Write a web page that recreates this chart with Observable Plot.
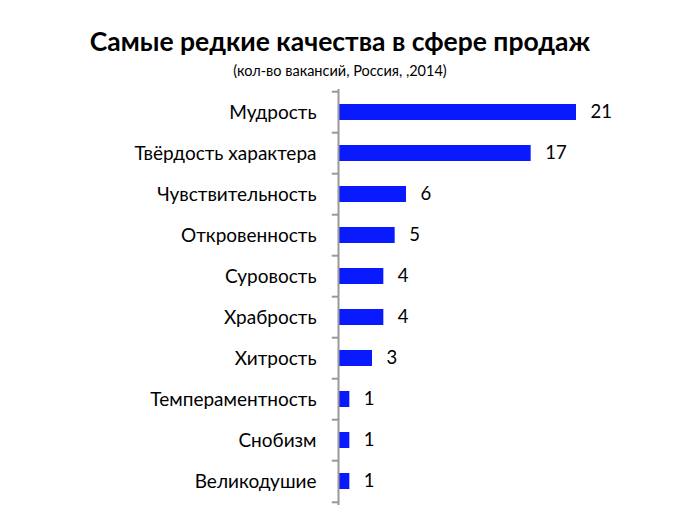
<!DOCTYPE html>
<html>
<head>
<meta charset="utf-8">
<script src="https://cdn.jsdelivr.net/npm/d3@7"></script>
<script src="https://cdn.jsdelivr.net/npm/@observablehq/plot@0.6"></script>
<style>
  body { margin: 0; background: #fff; font-family: Lato, "Open Sans", sans-serif; }
  #wrap { width: 700px; height: 519px; position: relative; }
  #title { position: absolute; left: 0; width: 680px; top: 28px; text-align: center; font-weight: bold; font-size: 26.5px; line-height: 27px; color: #000; }
  #subtitle { position: absolute; left: 0; width: 680px; top: 63px; text-align: center; font-size: 14.5px; line-height: 16px; color: #000; }
  #chart { position: absolute; left: 0; top: 80px; }
</style>
</head>
<body>
<div id="wrap">
  <div id="title">Самые редкие качества в сфере продаж</div>
  <div id="subtitle">(кол-во вакансий, Россия, ,2014)</div>
  <div id="chart"></div>
</div>
<script>
const categories = ["Мудрость", "Твёрдость характера", "Чувствительность", "Откровенность", "Суровость", "Храбрость", "Хитрость", "Темпераментность", "Снобизм", "Великодушие"];
const values = [21, 17, 6, 5, 4, 4, 3, 1, 1, 1];

const data = categories.map((c, i) => ({ name: c, value: values[i] }));

const width = 700, height = 439;
const marginTop = 9, marginBottom = 14, marginLeft = 338, marginRight = 124;
const step = (height - marginTop - marginBottom) / categories.length;
const axisColor = "#999";

const chart = Plot.plot({
  width, height, marginTop, marginBottom, marginLeft, marginRight,
  style: { fontFamily: "Lato, 'Open Sans', sans-serif", fontSize: "19px", color: "#000", background: "#fff" },
  x: { domain: [0, 21], axis: null },
  y: { domain: categories, paddingInner: 0.6, paddingOuter: 0.3, label: null },
  marks: [
    Plot.barX(data, { x: "value", y: "name", fill: "#0A1AFF" }),
    Plot.axisY({ tickSize: 0, tickPadding: 22, fontSize: 19, label: null }),
    Plot.ruleX([0], { stroke: axisColor, strokeWidth: 2 }),
    Plot.ruleY(categories, { y: d => d, x1: -0.55, x2: 0, dy: -step / 2, stroke: axisColor, strokeWidth: 2 }),
    Plot.ruleY([categories[categories.length - 1]], { y: d => d, x1: -0.55, x2: 0, dy: step / 2, stroke: axisColor, strokeWidth: 2 }),
    Plot.text(data, { x: "value", y: "name", text: d => String(d.value), textAnchor: "start", dx: 14, fontSize: 18.5, fill: "#000" })
  ]
});
document.getElementById("chart").appendChild(chart);
</script>
</body>
</html>
